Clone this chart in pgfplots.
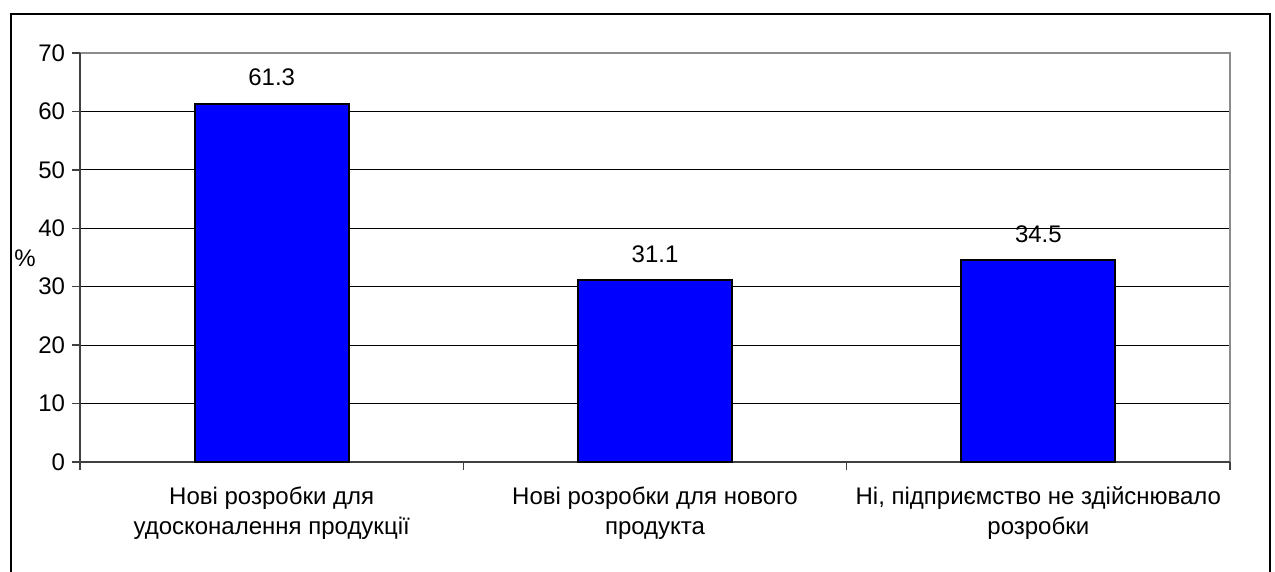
\documentclass[border=0pt]{standalone}
\usepackage{pgfplots}
\pgfplotsset{compat=1.18}
\usepackage{fontspec}
\setmainfont{Liberation Sans}
\definecolor{barblue}{RGB}{0,0,255}
\definecolor{axisdark}{RGB}{64,64,64}
\definecolor{framegray}{RGB}{140,140,140}
\begin{document}
\begin{tikzpicture}[x=0.5bp,y=0.5bp]
  % page: 1275 x 572 units
  \useasboundingbox (0,0) rectangle (1275,572);
  \clip (0,0) rectangle (1275,572);
  % outer chart frame (open at the foot of the page)
  \draw[black, line width=1bp] (11,-20) -- (11,558) -- (1270,558) -- (1270,-20);
  \begin{axis}[
    at={(40bp,55bp)}, anchor=south west,
    scale only axis, width=575bp, height=204.5bp,
    xmin=-0.5, xmax=2.5, ymin=0, ymax=70,
    ytick={0,10,...,70},
    xtick={-0.5,0.5,1.5,2.5}, xticklabels={},
    extra x ticks={0,1,2},
    extra x tick labels={{Нові розробки для\\удосконалення продукції},
                         {Нові розробки для нового\\продукта},
                         {Ні, підприємство не здійснювало\\розробки}},
    extra x tick style={major tick length=0pt, grid=none,
      tick label style={align=center, font=\fontsize{12bp}{15bp}\selectfont,
        yshift=-9bp}},
    ymajorgrids, grid style={black, line width=0.5bp},
    axis line style={draw=none},
    tick style={axisdark, line width=0.75bp},
    major tick length=4bp,
    xtick pos=bottom, ytick pos=left,
    tick align=outside,
    yticklabel style={font=\fontsize{12bp}{14bp}\selectfont},
    /pgf/number format/assume math mode=true,
    clip=false,
  ]
    % plot-area frame
    \draw[framegray, line width=1.2bp] (axis cs:-0.5,70) -- (axis cs:2.5,70) -- (axis cs:2.5,0);
    \draw[axisdark, line width=1bp] (axis cs:-0.5,70) -- (axis cs:-0.5,0) -- (axis cs:2.5,0);
    \addplot[ybar, bar width=77bp, fill=barblue, draw=black, line width=1bp,
      nodes near coords,
      nodes near coords style={font=\fontsize{12bp}{14bp}\selectfont, black, yshift=5bp,
        /pgf/number format/.cd, fixed, precision=1, assume math mode=true}]
      coordinates {(0,61.3) (1,31.1) (2,34.5)};
  \end{axis}
  \node[font=\fontsize{12bp}{14bp}\selectfont] at (25,314) {\%};
\end{tikzpicture}
\end{document}
